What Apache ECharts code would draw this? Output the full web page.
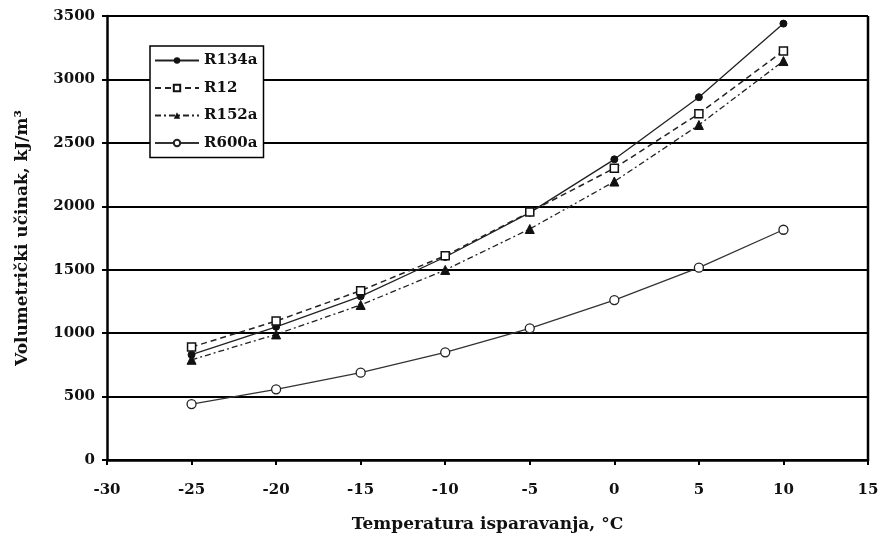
<!DOCTYPE html>
<html>
<head>
<meta charset="utf-8">
<script src="https://cdn.jsdelivr.net/npm/echarts@6/dist/echarts.min.js"></script>
<style>
  html, body { margin: 0; padding: 0; background: #fff; }
  #chart { width: 882px; height: 540px; }
</style>
</head>
<body>
<div id="chart"></div>
<script>
// temperatura isparavanja, °C
var temps = [-25, -20, -15, -10, -5, 0, 5, 10];

// volumetrijski ucinak, kJ/m3 (ocitano sa slike)
var r134a = [830, 1050, 1290, 1600, 1950, 2370, 2860, 3440];
var r12   = [890, 1095, 1335, 1610, 1955, 2300, 2730, 3225];
var r152a = [790, 990, 1222, 1498, 1821, 2195, 2641, 3145];
var r600a = [441, 557, 688, 849, 1038, 1261, 1516, 1815];

var fontFam = '"DejaVu Serif", "Liberation Serif", serif';

function pairs(ys) {
    return temps.map(function (t, i) { return [t, ys[i]]; });
}

var myChart = echarts.init(document.getElementById('chart'));

var option = {
    animation: false,
    backgroundColor: '#fff',
    grid: { left: 107, right: 14, top: 16, bottom: 80 },
    legend: {
        orient: 'vertical',
        left: 150,
        top: 46,
        padding: [7, 6, 7, 4],
        itemGap: 12.5,
        itemWidth: 44,
        itemHeight: 8,
        backgroundColor: '#fff',
        borderColor: '#000',
        borderWidth: 1.5,
        borderRadius: 0,
        textStyle: { fontFamily: fontFam, fontWeight: 'bold', fontSize: 15, color: '#111' },
        data: ['R134a', 'R12', 'R152a', 'R600a']
    },
    xAxis: {
        type: 'value',
        min: -30, max: 15, interval: 5,
        name: 'Temperatura isparavanja, °C',
        nameLocation: 'middle',
        nameGap: 56,
        nameTextStyle: { fontFamily: fontFam, fontWeight: 'bold', fontSize: 17, color: '#111' },
        axisLine: { show: true, onZero: false, lineStyle: { color: '#000', width: 2.5 } },
        axisTick: { show: true, length: 5, lineStyle: { color: '#000', width: 2 } },
        axisLabel: { margin: 23, fontFamily: fontFam, fontWeight: 'bold', fontSize: 15, color: '#111' },
        splitLine: { show: false }
    },
    yAxis: {
        type: 'value',
        min: 0, max: 3500, interval: 500,
        name: 'Volumetrički učinak, kJ/m³',
        nameLocation: 'middle',
        nameGap: 76,
        nameTextStyle: { fontFamily: fontFam, fontWeight: 'bold', fontSize: 17, color: '#111' },
        axisLine: { show: true, onZero: false, lineStyle: { color: '#000', width: 2.5 } },
        axisTick: { show: true, length: 5, lineStyle: { color: '#000', width: 2 } },
        axisLabel: {
            margin: 12, fontFamily: fontFam, fontWeight: 'bold', fontSize: 15, color: '#111',
            formatter: function (v) { return String(v); }
        },
        splitLine: { show: true, lineStyle: { color: '#000', width: 2 } }
    },
    series: [
        {
            name: 'R134a', type: 'line', data: pairs(r134a),
            symbol: 'circle', symbolSize: 7,
            itemStyle: { color: '#111', borderColor: '#111' },
            lineStyle: { color: '#222', width: 1.3, type: 'solid' }
        },
        {
            name: 'R12', type: 'line', data: pairs(r12),
            symbol: 'rect', symbolSize: 8,
            itemStyle: { color: '#fff', borderColor: '#111', borderWidth: 1.5 },
            lineStyle: { color: '#222', width: 1.5, type: [6, 4] }
        },
        {
            name: 'R152a', type: 'line', data: pairs(r152a),
            symbol: 'triangle', symbolSize: 9,
            itemStyle: { color: '#111', borderColor: '#111' },
            lineStyle: { color: '#222', width: 1.3, type: [6, 3, 2, 3] }
        },
        {
            name: 'R600a', type: 'line', data: pairs(r600a),
            symbol: 'circle', symbolSize: 9,
            itemStyle: { color: '#fff', borderColor: '#222', borderWidth: 1.3 },
            lineStyle: { color: '#333', width: 1.3, type: 'solid' }
        },
        {
            // desni okvir grafa
            name: 'okvir', type: 'line', data: [[15, 0], [15, 3500]],
            symbol: 'none', silent: true,
            lineStyle: { color: '#000', width: 2.5 }
        }
    ]
};

myChart.setOption(option);
</script>
</body>
</html>
